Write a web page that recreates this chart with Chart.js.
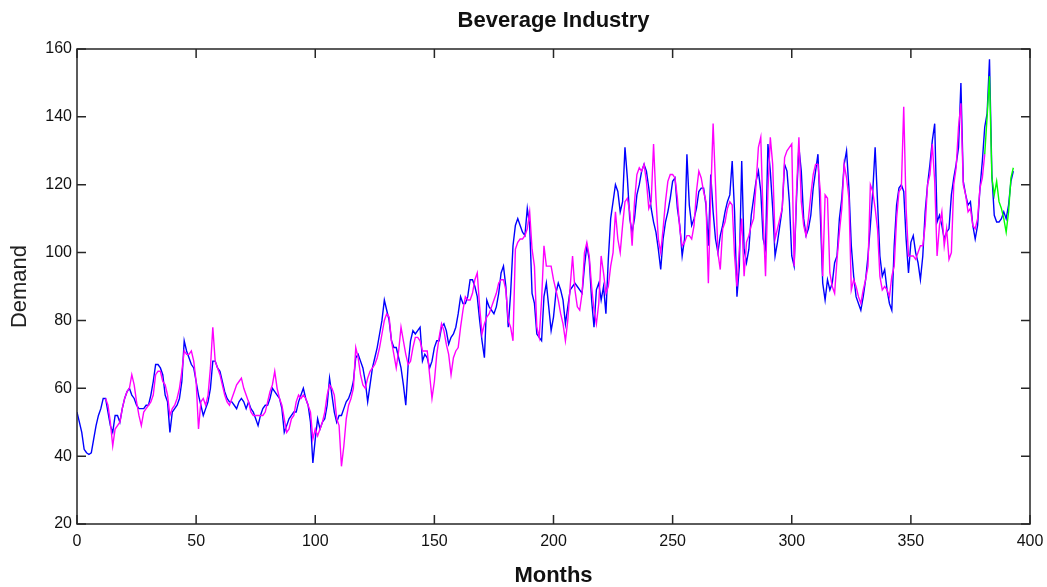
<!DOCTYPE html>
<html>
<head>
<meta charset="utf-8">
<title>Beverage Industry</title>
<script src="https://cdn.jsdelivr.net/npm/chart.js@4.4.0/dist/chart.umd.min.js"></script>
<style>
    html, body { margin: 0; padding: 0; background: #fff; }
    #wrap { width: 1047px; height: 587px; }
</style>
</head>
<body>
<div id="wrap"><canvas id="demand-chart" width="1047" height="587"></canvas></div>
<script>
(function () {
    "use strict";

    // Demand, month by month
    var demandStart = 0;
    var demand = [
        53, 50, 47, 42, 41, 40.5, 41, 45, 49, 52,
        54, 57, 57, 53, 49, 47, 52, 52, 50, 54,
        57, 59, 60, 58, 57, 55, 54, 54, 54, 55,
        55, 58, 62, 67, 67, 66, 64, 58, 56, 47,
        53, 54, 55, 57, 62, 74, 71, 69, 67, 66,
        62, 58, 55, 52, 54, 56, 60, 68, 68, 66,
        65, 62, 59, 57, 56, 56, 55, 54, 56, 57,
        56, 54, 56, 54, 53, 51, 49, 52, 54, 55,
        55, 57, 60, 59, 58, 57, 54, 47, 49, 51,
        52, 53, 53, 56, 58, 60, 57, 55, 50, 38,
        45, 51, 48, 50, 51, 55, 63, 58, 53, 50,
        52, 52, 54, 56, 57, 59, 62, 69, 70, 68,
        66, 62, 56, 61, 66, 69, 72, 76, 80, 86,
        83, 80, 74, 72, 72, 69, 66, 61, 55, 67,
        74, 77, 76, 77, 78, 68, 70, 69, 66, 68,
        72, 74, 74, 78, 79, 77, 73, 75, 76, 78,
        82, 87, 85, 85, 87, 92, 92, 90, 87, 80,
        74, 69, 86, 84, 83, 82, 84, 88, 94, 96,
        90, 78, 88, 102, 108, 110, 108, 106, 105, 113,
        108, 88, 85, 76, 75, 74, 87, 91, 84, 77,
        81, 88, 91, 89, 86, 79, 84, 89, 90, 91,
        90, 89, 88, 96, 102, 98, 86, 78, 89, 91,
        86, 90, 82, 98, 110, 115, 120, 118, 112, 115,
        131, 122, 110, 106, 110, 117, 120, 124, 126, 124,
        119, 113, 109, 106, 101, 95, 104, 109, 112, 116,
        121, 122, 113, 108, 99, 104, 129, 114, 108, 110,
        113, 118, 119, 119, 114, 102, 123, 112, 104, 100,
        105, 108, 112, 115, 117, 127, 112, 87, 96, 127,
        101, 97, 101, 111, 116, 121, 124, 118, 104, 101,
        132, 124, 113, 99, 103, 108, 113, 126, 124, 115,
        99, 96, 116, 131, 124, 110, 105, 107, 111, 119,
        124, 129, 111, 91, 86, 92, 89, 91, 97, 99,
        110, 116, 126, 130, 119, 102, 93, 87, 85, 83,
        87, 92, 99, 108, 118, 131, 115, 99, 93, 95,
        89, 85, 83, 102, 114, 119, 120, 118, 104, 94,
        103, 105, 100, 97, 92, 99, 112, 120, 126, 133,
        138, 109, 111, 108, 104, 106, 107, 117, 122, 126,
        131, 150, 121, 117, 114, 115, 108, 104, 108, 119,
        127, 137, 141, 157, 123, 111, 109, 109, 110, 112,
        110, 114, 121, 124
    ];

    // Fitted values, from month 12
    var fittedStart = 12;
    var fitted = [
        57, 55, 50, 43, 48, 49, 50, 54,
        57, 59, 60, 64, 61, 56, 52, 49, 53, 54,
        55, 56, 58, 64, 65, 65, 62, 61, 58, 52,
        54, 55, 57, 60, 65, 71, 70, 70, 71, 68,
        62, 48, 56, 57, 55, 58, 66, 78, 68, 66,
        64, 61, 58, 56, 55, 57, 59, 61, 62, 63,
        60, 58, 56, 53, 52, 52, 52, 52, 52, 53,
        56, 59, 61, 65, 60, 57, 55, 51, 47, 48,
        51, 52, 56, 58, 57, 58, 57, 55, 53, 45,
        48, 46, 48, 50, 53, 58, 61, 60, 58, 51,
        49, 37, 43, 51, 55, 57, 60, 72, 69, 64,
        61, 60, 63, 65, 66, 67, 69, 72, 76, 80,
        82, 81, 74, 70, 66, 71, 78, 74, 70, 67,
        68, 72, 75, 75, 74, 71, 71, 71, 64, 57,
        62, 70, 75, 79, 77, 73, 70, 64, 69, 71,
        72, 78, 83, 87, 86, 86, 88, 92, 94, 84,
        76, 79, 81, 82, 84, 86, 88, 91, 92, 92,
        89, 80, 78, 74, 101, 103, 104, 104, 105, 107,
        112, 101, 96, 78, 75, 86, 102, 96, 96, 96,
        92, 89, 86, 82, 79, 74, 80, 90, 99, 89,
        84, 83, 88, 100, 103, 99, 90, 83, 79, 85,
        99, 94, 88, 90, 96, 100, 112, 104, 100, 108,
        115, 116, 112, 102, 115, 123, 125, 124, 126, 121,
        113, 115, 132, 116, 104, 100, 107, 115, 121, 123,
        123, 122, 116, 107, 102, 103, 105, 105, 104, 108,
        118, 124, 122, 118, 115, 91, 117, 138, 120, 100,
        95, 107, 109, 113, 115, 114, 99, 90, 101, 110,
        93, 103, 105, 108, 110, 120, 131, 134, 110, 93,
        118, 134, 126, 104, 107, 110, 113, 128, 130, 131,
        132, 96, 118, 134, 115, 108, 105, 110, 117, 123,
        126, 126, 118, 93, 117, 116, 94, 90, 88, 98,
        106, 113, 126, 122, 116, 89, 92, 90, 87, 85,
        89, 92, 96, 120, 118, 113, 107, 93, 89, 90,
        89, 87, 93, 96, 110, 118, 119, 143, 113, 99,
        99, 99, 98, 100, 102, 102, 108, 120, 123, 132,
        121, 99, 108, 112, 102, 107, 98, 100, 120, 125,
        137, 144, 120, 117, 112, 113, 108, 107, 110, 119,
        122, 129
    ];

    // Forecast, last months
    var forecastStart = 381;
    var forecast = [129, 140, 152, 122, 117, 121, 115, 113, 110, 106, 112, 122, 125];

    var monthTicks = [0, 50, 100, 150, 200, 250, 300, 350, 400];
    var demandTicks = [20, 40, 60, 80, 100, 120, 140, 160];

    var fontFamily = "'Liberation Sans', Arial, Helvetica, sans-serif";

    function toPoints(start, values) {
        return values.map(function (v, i) {
            return {x: start + i, y: v};
        });
    }

    // MATLAB style box with inward ticks
    var boxTicks = {
        id: 'boxTicks',
        afterDatasetsDraw: function (chart) {
            var ctx = chart.ctx;
            var a = chart.chartArea;
            var xs = chart.scales.x;
            var ys = chart.scales.y;
            var len = 9;
            ctx.save();
            ctx.strokeStyle = '#262626';
            ctx.lineWidth = 1.5;
            ctx.beginPath();
            monthTicks.forEach(function (t) {
                var px = xs.getPixelForValue(t);
                ctx.moveTo(px, a.bottom);
                ctx.lineTo(px, a.bottom - len);
                ctx.moveTo(px, a.top);
                ctx.lineTo(px, a.top + len);
            });
            demandTicks.forEach(function (t) {
                var py = ys.getPixelForValue(t);
                ctx.moveTo(a.left, py);
                ctx.lineTo(a.left + len, py);
                ctx.moveTo(a.right, py);
                ctx.lineTo(a.right - len, py);
            });
            ctx.stroke();
            ctx.strokeRect(a.left, a.top, a.right - a.left, a.bottom - a.top);
            ctx.restore();
        }
    };

    var ctx = document.getElementById('demand-chart').getContext('2d');
    var demandChart = new Chart(ctx, {
        type: 'line',
        data: {
            datasets: [{
                label: 'Demand',
                data: toPoints(demandStart, demand),
                borderColor: '#0000ff',
                borderWidth: 1.4,
                order: 3
            },
            {
                label: 'Fitted',
                data: toPoints(fittedStart, fitted),
                borderColor: '#ff00ff',
                borderWidth: 1.4,
                order: 2
            },
            {
                label: 'Forecast',
                data: toPoints(forecastStart, forecast),
                borderColor: '#00ff00',
                borderWidth: 1.4,
                order: 1
            }]
        },
        options: {
            responsive: false,
            animation: false,
            devicePixelRatio: 1,
            elements: {
                point: {radius: 0, hoverRadius: 0},
                line: {tension: 0, fill: false}
            },
            layout: {
                padding: {left: 0, right: 17, top: 0, bottom: 0}
            },
            plugins: {
                legend: {display: false},
                tooltip: {enabled: false},
                title: {
                    display: true,
                    text: 'Beverage Industry',
                    fullSize: false,
                    color: '#111',
                    font: {family: fontFamily, size: 22, weight: 'bold', lineHeight: 1.2},
                    padding: {top: 7.5, bottom: 15.1}
                }
            },
            scales: {
                x: {
                    type: 'linear',
                    min: 0,
                    max: 400,
                    afterFit: function (scale) {
                        scale.height = 63;
                        scale.paddingLeft = 0;
                        scale.paddingRight = 0;
                    },
                    afterBuildTicks: function (scale) {
                        scale.ticks = monthTicks.map(function (v) { return {value: v}; });
                    },
                    grid: {display: false, drawTicks: false},
                    border: {display: false},
                    ticks: {
                        autoSkip: false,
                        maxRotation: 0,
                        padding: 7.5,
                        color: '#111',
                        font: {family: fontFamily, size: 16}
                    },
                    title: {
                        display: true,
                        text: 'Months',
                        color: '#111',
                        font: {family: fontFamily, size: 22, weight: 'bold', lineHeight: 1},
                        padding: {top: 0, bottom: 0}
                    }
                },
                y: {
                    min: 20,
                    max: 160,
                    afterFit: function (scale) { scale.width = 77; },
                    afterBuildTicks: function (scale) {
                        scale.ticks = demandTicks.map(function (v) { return {value: v}; });
                    },
                    grid: {display: false, drawTicks: false},
                    border: {display: false},
                    ticks: {
                        padding: 5,
                        color: '#111',
                        font: {family: fontFamily, size: 16}
                    },
                    title: {
                        display: true,
                        text: 'Demand',
                        color: '#222',
                        font: {family: fontFamily, size: 22, lineHeight: 1},
                        padding: {top: 9.4, bottom: 0}
                    }
                }
            }
        },
        plugins: [boxTicks]
    });
})();
</script>
</body>
</html>
